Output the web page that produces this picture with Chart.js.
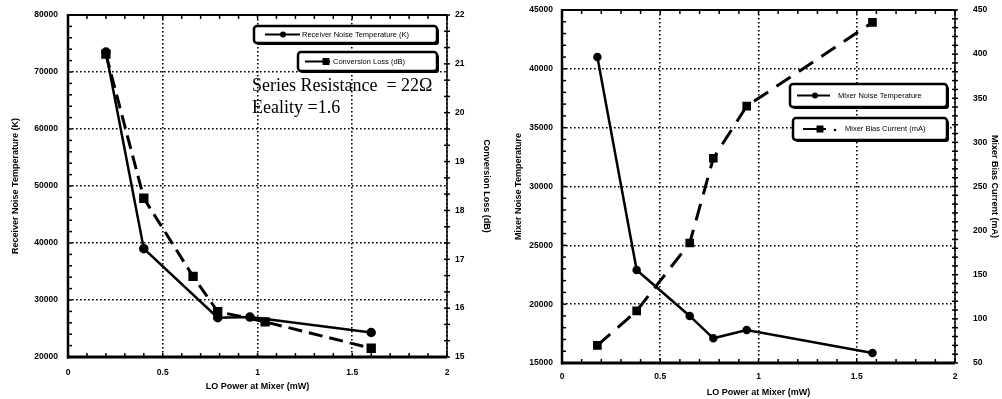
<!DOCTYPE html>
<html><head><meta charset="utf-8">
<script src="https://cdn.jsdelivr.net/npm/chart.js@4/dist/chart.umd.min.js"></script>
<style>
html,body{margin:0;padding:0;background:#fff;width:1002px;height:399px;overflow:hidden}
#c1{position:absolute;left:0;top:0}
#c2{position:absolute;left:500px;top:0}
</style></head><body>
<canvas id="c1" width="500" height="399"></canvas>
<canvas id="c2" width="502" height="399"></canvas>
<script>
// ---------- data: left chart ----------
const loPowerReceiver   = [0.2, 0.4, 0.79, 0.96, 1.6];
const receiverNoiseTemp = [73500, 39000, 26900, 27000, 24300];
const loPowerConvLoss   = [0.2, 0.4, 0.66, 0.79, 1.04, 1.6];
const conversionLoss    = [21.2, 18.25, 16.65, 15.93, 15.72, 15.18];
// ---------- data: right chart ----------
const loPowerMixer      = [0.18, 0.38, 0.65, 0.77, 0.94, 1.58];
const mixerNoiseTemp    = [41000, 22900, 19000, 17100, 17800, 15850];
const mixerBiasCurrent  = [70, 109, 186, 282, 341, 436];
// ---------- axis ranges / ticks ----------
const xRange      = [0, 2, 0.5];
const leftYRange  = [20000, 80000, 10000];
const lossRange   = [15, 22, 1];
const mixYRange   = [15000, 45000, 5000];
const biasRange   = [50, 450, 50];
const xTitle = 'LO Power at Mixer (mW)';

const pts = (xs, ys) => xs.map((x, i) => ({x, y: ys[i]}));
const tickFont = {family: 'Liberation Sans, Arial, sans-serif', size: 8.5, weight: 'bold'};
const titleFont = {family: 'Liberation Sans, Arial, sans-serif', size: 9, weight: 'bold'};
const plain = v => String(v);

function drawMarker(ctx, style, x, y, r) {
  ctx.beginPath();
  if (style === 'rect') ctx.rect(x - r, y - r, 2 * r, 2 * r);
  else ctx.arc(x, y, r, 0, Math.PI * 2);
  ctx.fill();
}

const framePlugin = {
  id: 'frame',
  afterDatasetsDraw(chart, args, o) {
    const {ctx, chartArea: a, scales} = chart;
    ctx.save();
    ctx.strokeStyle = '#000';
    ctx.lineCap = 'butt';
    const line = (x1, y1, x2, y2, w) => { ctx.lineWidth = w; ctx.beginPath(); ctx.moveTo(x1, y1); ctx.lineTo(x2, y2); ctx.stroke(); };
    const sx = scales.x;
    for (let i = 0; i <= Math.round((sx.max - sx.min) / o.xStep); i++) {
      const p = sx.getPixelForValue(sx.min + i * o.xStep);
      line(p, a.bottom, p, a.bottom - 4, 1.5);
      line(p, a.top, p, a.top + 4, 1.5);
    }
    const sy = scales.y;
    for (let i = 0; i <= Math.round((sy.max - sy.min) / o.yStep); i++) {
      const p = sy.getPixelForValue(sy.min + i * o.yStep);
      line(a.left, p, a.left + 4, p, 1.5);
    }
    const s2 = scales.y2;
    const n2 = Math.round((s2.max - s2.min) / o.y2Step);
    for (let i = 0; i <= n2; i++) {
      const p = s2.getPixelForValue(s2.min + i * o.y2Step);
      line(a.right - 3, p, a.right + 3, p, 1.5);
    }
    line(a.left, a.top, a.right, a.top, 2);
    line(a.right, a.top, a.right, a.bottom, 1.5);
    line(a.left, a.top - 1, a.left, a.bottom + 1.5, 2.5);
    line(a.left - 1, a.bottom, a.right, a.bottom, 3);
    ctx.restore();
  }
};

const legendBoxes = {
  id: 'legendBoxes',
  afterDraw(chart, args, o) {
    const {ctx} = chart;
    ctx.save();
    (o.boxes || []).forEach(b => {
      const ds = chart.data.datasets[b.ds];
      ctx.fillStyle = '#000';
      ctx.beginPath(); ctx.roundRect(b.x + 2, b.y + 2, b.w, b.h, 3); ctx.fill();
      ctx.fillStyle = '#fff';
      ctx.beginPath(); ctx.roundRect(b.x, b.y, b.w, b.h, 3); ctx.fill();
      ctx.strokeStyle = '#000'; ctx.lineWidth = 2.5;
      ctx.beginPath(); ctx.roundRect(b.x, b.y, b.w, b.h, 3); ctx.stroke();
      const cy = b.y + b.h / 2;
      ctx.save();
      ctx.beginPath(); ctx.rect(b.x, b.y, b.w - 1, b.h); ctx.clip();
      ctx.lineWidth = 2;
      ctx.beginPath(); ctx.moveTo(b.l1, cy); ctx.lineTo(b.l2, cy); ctx.stroke();
      ctx.fillStyle = '#000';
      drawMarker(ctx, ds.pointStyle, b.m, cy, ds.pointStyle === 'rect' ? 3.5 : 3);
      if (b.dot) drawMarker(ctx, 'circle', b.dot, cy + 1, 1.3);
      ctx.font = '7.5px "Liberation Sans", Arial, sans-serif';
      ctx.textBaseline = 'middle';
      ctx.fillText(ds.label, b.t, cy);
      ctx.restore();
    });
    (o.notes || []).forEach(n => {
      ctx.fillStyle = '#000';
      ctx.font = n.font;
      ctx.textBaseline = 'alphabetic';
      ctx.fillText(n.text, n.x, n.y);
    });
    ctx.restore();
  }
};

function fixV(w) {
  return s => { s.width = w; s.paddingTop = 4; s.paddingBottom = 4; };
}

function axes(xr, yr, y2r, ytitle, y2title, dims) {
  return {
    x: {
      type: 'linear', min: xr[0], max: xr[1],
      ticks: {stepSize: xr[2], callback: plain, font: tickFont, color: '#000', padding: dims.xPad, maxRotation: 0},
      grid: {color: '#000', lineWidth: 1.6, drawTicks: false},
      border: {display: false, dash: [1.6, 2.4]},
      title: {display: true, text: xTitle, font: titleFont, color: '#000', padding: {top: 0, bottom: dims.xTitlePad}},
      afterFit: s => { s.height = dims.xH; }
    },
    y: {
      type: 'linear', position: 'left', min: yr[0], max: yr[1],
      ticks: {stepSize: yr[2], callback: plain, font: tickFont, color: '#000', padding: dims.yPad},
      grid: {color: '#000', lineWidth: 1.6, drawTicks: false},
      border: {display: false, dash: [1.6, 2.4]},
      title: {display: true, text: ytitle, font: titleFont, color: '#000', padding: {top: dims.yTitlePad, bottom: 0}},
      afterFit: fixV(dims.yW)
    },
    y2: {
      type: 'linear', position: 'right', min: y2r[0], max: y2r[1],
      ticks: {stepSize: y2r[2], callback: plain, font: tickFont, color: '#000', padding: dims.y2Pad},
      grid: {drawOnChartArea: false, drawTicks: false},
      border: {display: false},
      title: {display: true, text: y2title, font: titleFont, color: '#000', padding: {top: dims.y2TitlePad, bottom: 0}},
      afterFit: fixV(dims.y2W)
    }
  };
}

const common = {
  responsive: false, animation: false, devicePixelRatio: 1,
  plugins: {legend: {display: false}, tooltip: {enabled: false}}
};

new Chart(document.getElementById('c1'), {
  type: 'scatter',
  data: {datasets: [
    {label: 'Receiver Noise Temperature (K)', data: pts(loPowerReceiver, receiverNoiseTemp), yAxisID: 'y',
     showLine: true, borderColor: '#000', borderWidth: 2.5, pointStyle: 'circle', pointRadius: 3.5,
     pointBackgroundColor: '#000', pointBorderColor: '#000', tension: 0},
    {label: 'Conversion Loss (dB)', data: pts(loPowerConvLoss, conversionLoss), yAxisID: 'y2',
     showLine: true, borderColor: '#000', borderWidth: 3, borderDash: [14, 7], pointStyle: 'rect', pointRadius: 4.5,
     pointBackgroundColor: '#000', pointBorderColor: '#000', tension: 0}
  ]},
  options: Object.assign({}, common, {
    layout: {padding: {top: 15, left: 0, right: 0, bottom: 0}},
    scales: axes(xRange, leftYRange, lossRange, 'Receiver Noise Temperature (K)', 'Conversion Loss (dB)',
      {xH: 42, xPad: 11, xTitlePad: 7, yW: 68, yPad: 10, yTitlePad: 10, y2W: 53, y2Pad: 8, y2TitlePad: 8}),
    plugins: Object.assign({}, common.plugins, {
      frame: {xStep: 0.1, yStep: 2000, y2Step: 1 / 3},
      legendBoxes: {
        boxes: [
          {ds: 0, x: 254, y: 26, w: 183, h: 17, l1: 265, l2: 300, m: 283, t: 302},
          {ds: 1, x: 298, y: 52, w: 139, h: 19, l1: 305, l2: 330, m: 326, t: 333}
        ],
        notes: [
          {text: 'Series Resistance  = 22\u03A9', x: 252, y: 91, font: '18px "Liberation Serif", "Times New Roman", serif'},
          {text: 'Eeality =1.6', x: 252, y: 113, font: '18px "Liberation Serif", "Times New Roman", serif'}
        ]
      }
    })
  }),
  plugins: [framePlugin, legendBoxes]
});

new Chart(document.getElementById('c2'), {
  type: 'scatter',
  data: {datasets: [
    {label: 'Mixer Noise Temperature', data: pts(loPowerMixer, mixerNoiseTemp), yAxisID: 'y',
     showLine: true, borderColor: '#000', borderWidth: 2.5, pointStyle: 'circle', pointRadius: 3,
     pointBackgroundColor: '#000', pointBorderColor: '#000', tension: 0},
    {label: 'Mixer Bias Current (mA)', data: pts(loPowerMixer, mixerBiasCurrent), yAxisID: 'y2',
     showLine: true, borderColor: '#000', borderWidth: 3, borderDash: [17, 10], pointStyle: 'rect', pointRadius: 4,
     pointBackgroundColor: '#000', pointBorderColor: '#000', tension: 0}
  ]},
  options: Object.assign({}, common, {
    layout: {padding: {top: 10, left: 0, right: 0, bottom: 0}},
    scales: axes(xRange, mixYRange, biasRange, 'Mixer Noise Temperature', 'Mixer Bias Current (mA)',
      {xH: 36, xPad: 9, xTitlePad: 1, yW: 62, yPad: 9, yTitlePad: 13, y2W: 47, y2Pad: 18, y2TitlePad: 2}),
    plugins: Object.assign({}, common.plugins, {
      frame: {xStep: 0.1, yStep: 1000, y2Step: 10},
      legendBoxes: {
        boxes: [
          {ds: 0, x: 290, y: 84, w: 157, h: 23, l1: 297, l2: 330, m: 315, t: 338},
          {ds: 1, x: 293, y: 118, w: 154, h: 22, l1: 303, l2: 326, m: 320, t: 345, dot: 335}
        ]
      }
    })
  }),
  plugins: [framePlugin, legendBoxes]
});
</script>
</body></html>
